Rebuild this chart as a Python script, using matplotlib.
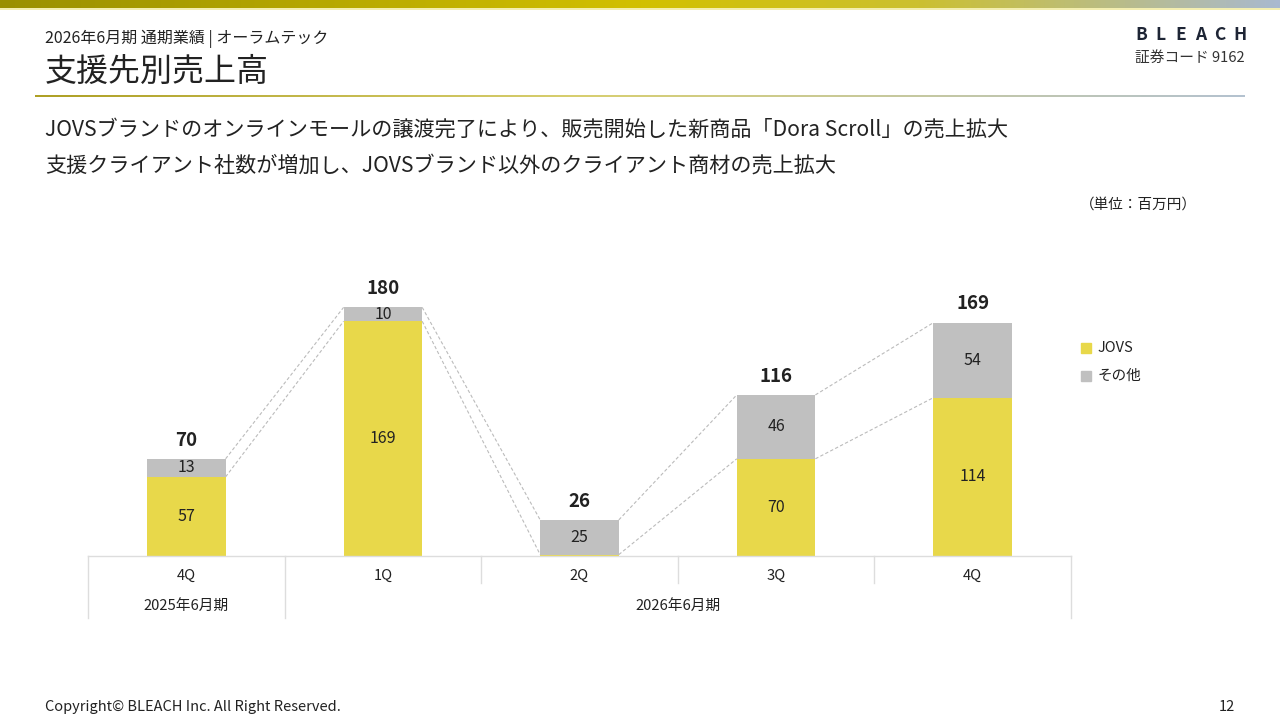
import numpy as np
import matplotlib.pyplot as plt
from matplotlib.colors import LinearSegmentedColormap
from matplotlib.lines import Line2D
from matplotlib.patches import Rectangle

plt.rcParams['font.family'] = ['Noto Sans CJK JP', 'DejaVu Sans']

# データ（単位：百万円）
quarters = ["4Q", "1Q", "2Q", "3Q", "4Q"]
jovs = [57, 169, 1, 70, 114]
other = [13, 10, 25, 46, 54]
totals = [70, 180, 26, 116, 169]
jovs_labels = ["57", "169", "", "70", "114"]
other_labels = ["13", "10", "25", "46", "54"]
years = ["2025年6月期", "2026年6月期"]

W, H = 1280, 720
YELLOW = "#e8d84a"
GRAY = "#c0c0c0"
TXT = "#222222"


def fx(x):
    return x / W


def fy(y):
    return 1 - y / H


fig = plt.figure(figsize=(12.8, 7.2), dpi=100)

# 上部のグラデーション帯
bg = fig.add_axes([0, 0, 1, 1], zorder=-5)
bg.set_xlim(0, W)
bg.set_ylim(H, 0)
bg.axis("off")
top_cmap = LinearSegmentedColormap.from_list(
    "top", [(0, "#9a9000"), (0.5, "#d2c000"), (0.72, "#ccc030"), (1, "#a9b9cf")])
grad = np.linspace(0, 1, 512).reshape(1, -1)
bg.imshow(grad, cmap=top_cmap, extent=[0, W, 8, 0], aspect="auto")
bg.add_patch(Rectangle((0, 8), W, 2, color="#f3eeb0", lw=0))
line_cmap = LinearSegmentedColormap.from_list(
    "ul", [(0, "#aea025"), (0.45, "#d8cf70"), (1, "#b4c2d0")])
bg.imshow(grad, cmap=line_cmap, extent=[35, 1245, 97, 95], aspect="auto")

# ヘッダー
fig.text(fx(45), fy(39), "2026年6月期 通期業績 | オーラムテック", fontsize=11.5,
         color=TXT, va="center")
fig.text(fx(45), fy(72), "支援先別売上高", fontsize=23, color=TXT, va="center")
for k, ch in enumerate("BLEACH"):
    fig.text(fx(1141 + k * 19.8), fy(35), ch, fontsize=12.5, fontweight="bold",
             color="#1e2535", va="center", ha="center")
fig.text(fx(1245), fy(58), "証券コード 9162", fontsize=10.6, color="#333333",
         va="center", ha="right")

fig.text(fx(45), fy(130), "JOVSブランドのオンラインモールの譲渡完了により、販売開始した新商品「Dora Scroll」の売上拡大",
         fontsize=15.2, color=TXT, va="center")
fig.text(fx(45), fy(166), "支援クライアント社数が増加し、JOVSブランド以外のクライアント商材の売上拡大",
         fontsize=15.2, color=TXT, va="center")
fig.text(fx(1197), fy(205), "（単位：百万円）", fontsize=10.5, color=TXT,
         va="center", ha="right")

# 棒グラフ
ax = fig.add_axes([fx(88), fy(556), fx(1071) - fx(88), 300 / H])
x = np.arange(len(quarters))
bw = 0.4
ax.bar(x, jovs, width=bw, color=YELLOW, zorder=3)
ax.bar(x, other, width=bw, bottom=jovs, color=GRAY, zorder=3)
ax.set_xlim(-0.5, len(quarters) - 0.5)
ax.set_ylim(0, 216)
ax.axis("off")

for i in range(len(quarters)):
    tops = [jovs[i], jovs[i] + other[i]]
    if jovs_labels[i]:
        ax.text(x[i], jovs[i] / 2, jovs_labels[i], ha="center", va="center",
                fontsize=11.5, color=TXT, zorder=4)
    ax.text(x[i], jovs[i] + other[i] / 2, other_labels[i], ha="center",
            va="center", fontsize=11.5, color=TXT, zorder=4)
    ax.text(x[i], jovs[i] + other[i] + 13.5, str(totals[i]), ha="center",
            va="center", fontsize=13.5, fontweight="bold", color=TXT)
    if i < len(quarters) - 1:
        nxt = [jovs[i + 1], jovs[i + 1] + other[i + 1]]
        for a, b in zip(tops, nxt):
            ax.plot([x[i] + bw / 2, x[i + 1] - bw / 2], [a, b], ls=(0, (3, 2)),
                    color="#bbbbbb", lw=0.8, zorder=2)

# 凡例
for yy, col, lab in [(348, YELLOW, "JOVS"), (376, GRAY, "その他")]:
    fig.patches.append(Rectangle((fx(1081), fy(yy + 5)), 10 / W, 10 / H,
                                 color=col, transform=fig.transFigure))
    fig.text(fx(1098), fy(yy), lab, fontsize=10.5, color=TXT, va="center")

# 下の表
LC = "#dddddd"
cell = (1071 - 88) / len(quarters)
fig.add_artist(Line2D([fx(88), fx(1071)], [fy(556), fy(556)], color=LC, lw=1))
for k in range(len(quarters) + 1):
    xp = 88 + k * cell
    y_end = 618 if k in (0, 1, len(quarters)) else 583
    fig.add_artist(Line2D([fx(xp), fx(xp)], [fy(556), fy(y_end)], color=LC, lw=1))
for k, q in enumerate(quarters):
    fig.text(fx(88 + (k + 0.5) * cell), fy(576), q, fontsize=10.6, color=TXT,
             ha="center", va="center")
fig.text(fx(88 + 0.5 * cell), fy(606), years[0], fontsize=10.6, color=TXT,
         ha="center", va="center")
fig.text(fx((88 + cell + 1071) / 2), fy(606), years[1], fontsize=10.6, color=TXT,
         ha="center", va="center")

# フッター
fig.text(fx(45), fy(707), "Copyright© BLEACH Inc. All Right Reserved.",
         fontsize=10.5, color=TXT, va="center")
fig.text(fx(1235), fy(707), "12", fontsize=10.5, color=TXT, va="center",
         ha="right")

fig.savefig("out.png", dpi=100)
